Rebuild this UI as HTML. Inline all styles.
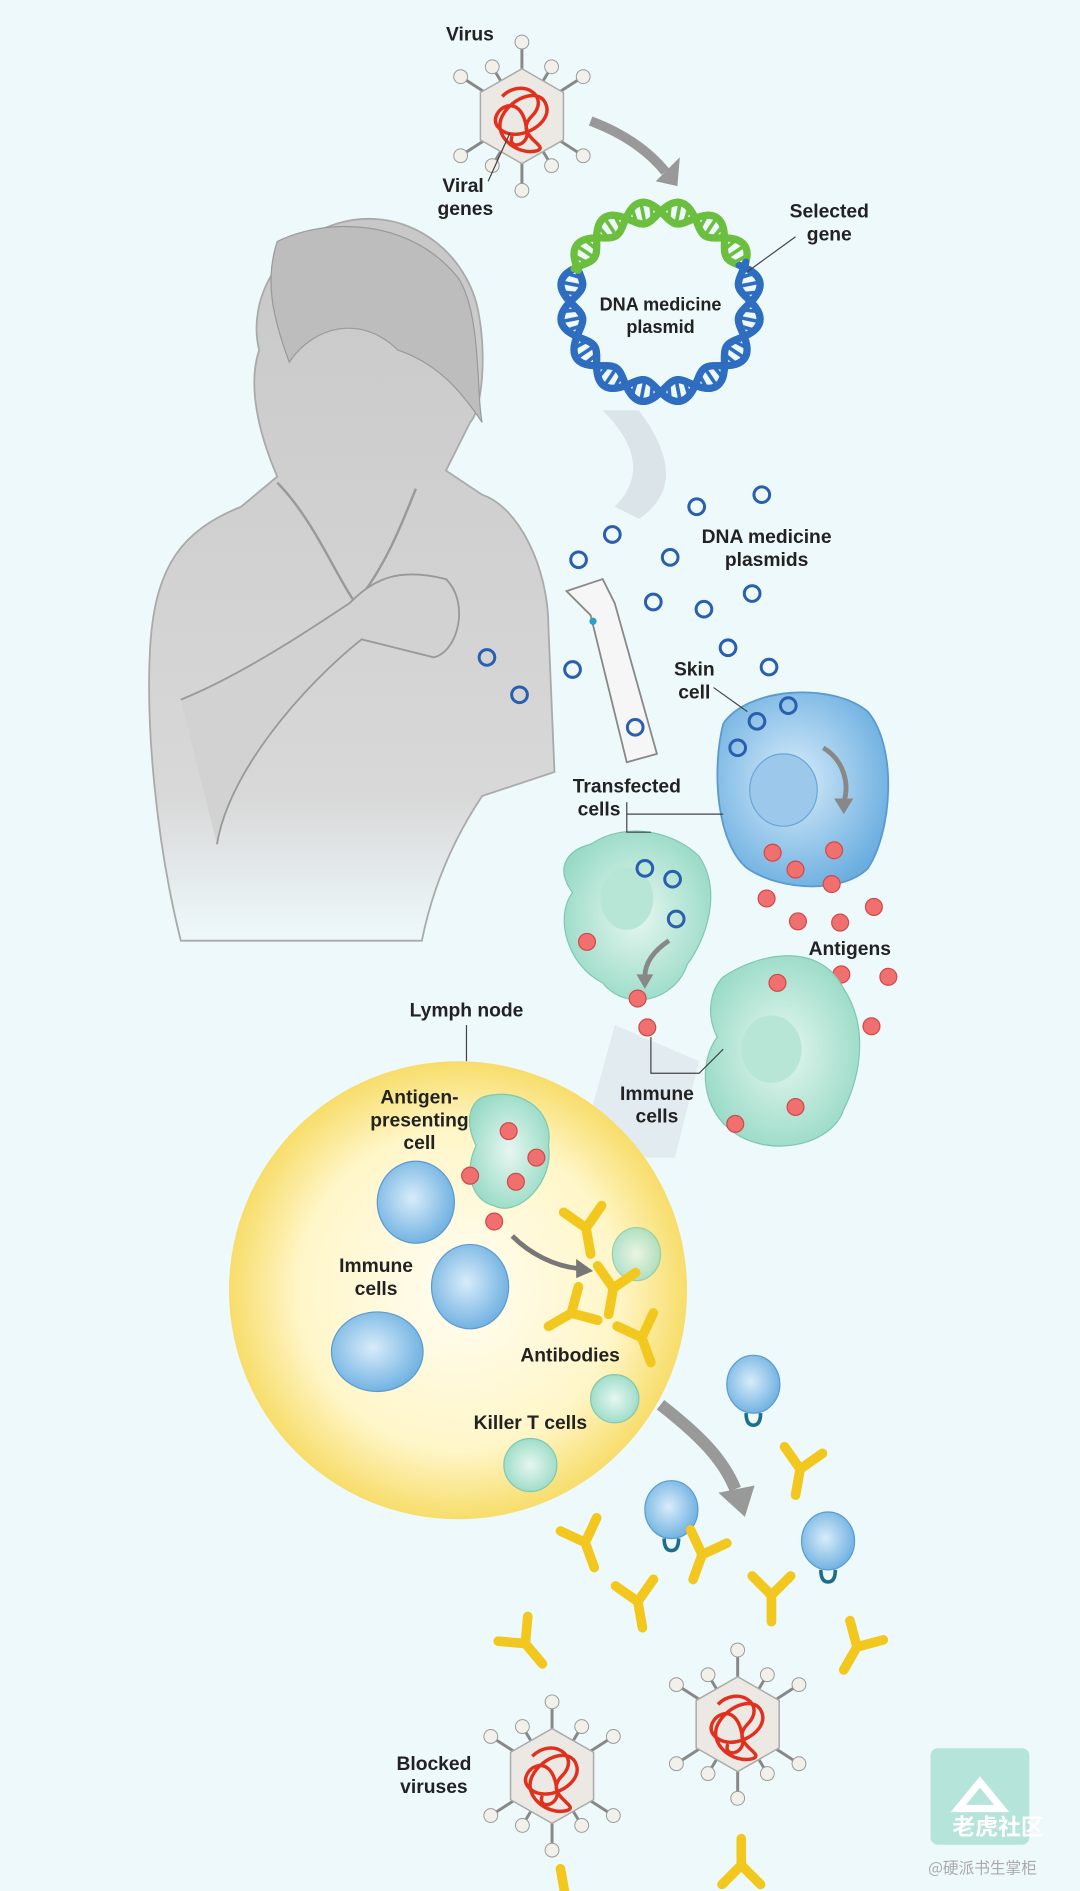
<!DOCTYPE html>
<html><head><meta charset="utf-8"><style>
html,body{margin:0;padding:0;background:#eef9fc;}
svg{display:block}
text{font-family:"Liberation Sans Narrow","Liberation Sans",Arial,sans-serif;font-weight:bold;fill:#222;}
</style></head><body>
<svg width="1080" height="1891" viewBox="0 0 896 1568" xmlns="http://www.w3.org/2000/svg">
<defs>
<radialGradient id="lymph" cx="0.5" cy="0.5" r="0.5">
<stop offset="0" stop-color="#fffdf2"/><stop offset="0.7" stop-color="#fff6c8"/><stop offset="1" stop-color="#f7dd6a"/></radialGradient>
<radialGradient id="blue" cx="0.45" cy="0.45" r="0.6">
<stop offset="0" stop-color="#d8ecfa"/><stop offset="1" stop-color="#6aaee0"/></radialGradient>
<radialGradient id="green" cx="0.5" cy="0.5" r="0.6">
<stop offset="0" stop-color="#e6f7f1"/><stop offset="1" stop-color="#92d8c2"/></radialGradient>
<linearGradient id="skin" x1="0" y1="0" x2="0" y2="1">
<stop offset="0" stop-color="#c8c8c8"/><stop offset="0.8" stop-color="#d8d8d8"/><stop offset="1" stop-color="#eef9fc"/></linearGradient>
<g id="ab"><path d="M0 0 L0 -22 M0 -22 L-16 -38 M0 -22 L16 -38" stroke="#f2c81e" stroke-width="8" stroke-linecap="round" fill="none"/></g>
<g id="plas"><circle r="6.5" fill="none" stroke="#2a5fb0" stroke-width="2.5"/></g>
<g id="ag"><circle r="7" fill="#f07070" stroke="#d04848" stroke-width="1"/></g>
<g id="virus">
<g stroke="#888" stroke-width="3"><line x1="0" y1="-75" x2="0" y2="75"/><line x1="-62" y1="-40" x2="62" y2="40"/><line x1="62" y1="-40" x2="-62" y2="40"/><line x1="-30" y1="-50" x2="30" y2="50"/><line x1="30" y1="-50" x2="-30" y2="50"/></g>
<polygon points="0,-48 42,-24 42,24 0,48 -42,24 -42,-24" fill="#ece8e4" stroke="#aaa" stroke-width="1.5"/>
<path d="M-20 -20 C0 -40 30 -20 10 0 C-10 20 30 30 15 35 C-5 40 -30 20 -20 0 C-10 -20 20 -30 25 -10 C30 10 -10 30 -25 10 C-35 -5 0 -30 5 15 C8 30 -15 35 -10 20" fill="none" stroke="#e0301e" stroke-width="3.5"/>
<g fill="#f2f0ea" stroke="#999"><circle cx="0" cy="-75" r="7"/><circle cx="0" cy="75" r="7"/><circle cx="-62" cy="-40" r="7"/><circle cx="62" cy="-40" r="7"/><circle cx="-62" cy="40" r="7"/><circle cx="62" cy="40" r="7"/><circle cx="-30" cy="-50" r="7"/><circle cx="30" cy="-50" r="7"/><circle cx="-30" cy="50" r="7"/><circle cx="30" cy="50" r="7"/></g>
</g>
<g id="bcell"><ellipse rx="22" ry="24" fill="url(#blue)" stroke="#5a9ad0"/><path d="M-6 24 q0 10 6 10 q6 0 6 -10" stroke="#1b6f8a" stroke-width="3" fill="none"/></g>
</defs>
<rect width="896" height="1568" fill="#eef9fc"/>

<!-- person -->
<path d="M150 780 C130 700 120 600 125 530 C130 470 150 440 200 420 L230 395 C215 360 205 320 215 290 C205 250 230 200 280 185 C330 170 380 200 395 250 C405 290 400 340 390 350 L370 390 L400 410 C430 420 455 470 455 520 L460 640 L400 660 C380 690 360 730 350 780 Z" fill="url(#skin)" stroke="#aaa" stroke-width="1.5"/>
<path d="M230 400 C260 430 280 480 295 500 C320 470 335 430 345 405" fill="none" stroke="#999" stroke-width="2"/>
<path d="M150 580 C200 560 260 520 290 500 C310 480 330 470 370 480 C390 500 380 540 360 545 L300 530 C250 570 190 640 180 700" fill="#d2d2d2" stroke="#999" stroke-width="1.5"/>
<path d="M230 200 C270 180 340 180 380 230 C400 260 395 330 400 350 C380 320 360 300 330 290 C300 260 260 270 240 300 C225 260 220 230 230 200Z" fill="#bdbdbd" stroke="#999"/>
<use href="#plas" x="404" y="545"/><use href="#plas" x="431" y="576"/>

<!-- virus top -->
<use href="#virus" transform="translate(433,96) scale(0.82)"/>
<text x="370" y="33" font-size="16">Virus</text>
<text x="367" y="159" font-size="16">Viral</text><text x="363" y="178" font-size="16">genes</text>
<line x1="405" y1="150" x2="423" y2="110" stroke="#444"/>
<path d="M490 100 Q530 115 552 142" stroke="#999" stroke-width="8" fill="none"/>
<polygon points="544,150 564,130 562,154" fill="#999"/>

<!-- plasmid -->
<g id="helix" fill="none"></g>
<text x="548" y="257" font-size="15" text-anchor="middle">DNA medicine</text>
<text x="548" y="276" font-size="15" text-anchor="middle">plasmid</text>
<text x="688" y="180" font-size="16" text-anchor="middle">Selected</text><text x="688" y="199" font-size="16" text-anchor="middle">gene</text>
<line x1="660" y1="196" x2="620" y2="225" stroke="#444"/>
<path d="M530 340 C560 380 560 410 530 430 L510 420 C540 390 520 360 500 340Z" fill="#d6dfe3" opacity="0.8"/>

<!-- plasmids scattered -->
<g>
<use href="#plas" x="578" y="420"/><use href="#plas" x="632" y="410"/><use href="#plas" x="508" y="443"/><use href="#plas" x="556" y="462"/><use href="#plas" x="480" y="464"/><use href="#plas" x="542" y="499"/><use href="#plas" x="584" y="505"/><use href="#plas" x="624" y="492"/><use href="#plas" x="604" y="537"/><use href="#plas" x="638" y="553"/><use href="#plas" x="475" y="555"/>
</g>
<text x="636" y="450" font-size="16" text-anchor="middle">DNA medicine</text>
<text x="636" y="469" font-size="16" text-anchor="middle">plasmids</text>

<!-- injector -->
<path d="M470 490 L500 480 L510 500 L545 625 L520 632 L490 510 Z" fill="#f6f6f6" stroke="#888" stroke-width="1.5"/>
<circle cx="492" cy="515" r="3" fill="#2aa0d0"/>
<use href="#plas" x="527" y="603"/>

<!-- shadow arrow -->
<path d="M510 850 L580 880 L560 960 L480 960 Z" fill="#d6dfe3" opacity="0.5"/>

<!-- skin cell -->
<path d="M600 600 C620 570 690 565 720 590 C745 620 740 690 720 720 C700 740 650 740 620 720 C595 700 590 640 600 600Z" fill="url(#blue)" stroke="#5a9ad0" stroke-width="1.5"/>
<ellipse cx="650" cy="655" rx="28" ry="30" fill="#9cc8ec" stroke="#6aa6d6"/>
<path d="M683 620 C700 630 705 650 700 665" stroke="#888" stroke-width="4" fill="none"/>
<polygon points="692,662 708,662 700,675" fill="#888"/>
<use href="#plas" x="628" y="598"/><use href="#plas" x="654" y="585"/><use href="#plas" x="612" y="620"/>
<text x="576" y="560" font-size="16" text-anchor="middle">Skin</text><text x="576" y="579" font-size="16" text-anchor="middle">cell</text>
<line x1="592" y1="570" x2="620" y2="590" stroke="#444"/>
<g><use href="#ag" x="641" y="707"/><use href="#ag" x="660" y="721"/><use href="#ag" x="692" y="705"/><use href="#ag" x="690" y="733"/><use href="#ag" x="636" y="745"/><use href="#ag" x="662" y="764"/><use href="#ag" x="697" y="765"/><use href="#ag" x="725" y="752"/><use href="#ag" x="698" y="808"/><use href="#ag" x="737" y="810"/><use href="#ag" x="723" y="851"/><use href="#ag" x="685" y="876"/></g>
<text x="705" y="792" font-size="16" text-anchor="middle">Antigens</text>

<!-- transfected cells -->
<path d="M490 700 C520 680 560 690 580 710 C600 740 585 780 570 800 C560 830 520 840 500 815 C470 800 460 760 475 740 C460 720 470 705 490 700Z" fill="url(#green)" stroke="#7fc8b0"/>
<ellipse cx="520" cy="745" rx="22" ry="26" fill="#b8e6d6"/>
<use href="#plas" x="535" y="720"/><use href="#plas" x="558" y="729"/><use href="#plas" x="561" y="762"/>
<use href="#ag" x="487" y="781"/><use href="#ag" x="529" y="828"/><use href="#ag" x="537" y="852"/>
<path d="M555 780 C540 790 535 800 535 810" stroke="#888" stroke-width="4" fill="none"/>
<polygon points="528,808 542,808 535,820" fill="#888"/>
<path d="M600 810 C630 790 680 780 700 820 C720 850 715 890 700 920 C690 950 640 960 610 940 C580 920 580 880 595 860 C585 840 590 820 600 810Z" fill="url(#green)" stroke="#7fc8b0"/>
<ellipse cx="640" cy="870" rx="25" ry="28" fill="#b8e6d6"/>
<use href="#ag" x="645" y="815"/><use href="#ag" x="660" y="918"/><use href="#ag" x="610" y="932"/>
<text x="520" y="657" font-size="16" text-anchor="middle">Transfected</text><text x="497" y="676" font-size="16" text-anchor="middle">cells</text>
<path d="M520 665 L520 690 L540 690 M520 675 L600 675" stroke="#444" fill="none"/>
<text x="545" y="912" font-size="16" text-anchor="middle">Immune</text><text x="545" y="931" font-size="16" text-anchor="middle">cells</text>
<path d="M540 860 L540 890 L580 890 L600 870" stroke="#444" fill="none"/>

<!-- lymph node -->
<circle cx="380" cy="1070" r="190" fill="url(#lymph)"/>
<text x="387" y="843" font-size="16" text-anchor="middle">Lymph node</text>
<line x1="387" y1="850" x2="387" y2="880" stroke="#444"/>
<path d="M400 910 C430 900 460 920 455 950 C460 980 430 1010 410 1000 C390 995 385 970 395 950 C385 930 390 915 400 910Z" fill="url(#green)" stroke="#7fc8b0"/>
<use href="#ag" x="422" y="938"/><use href="#ag" x="445" y="960"/><use href="#ag" x="428" y="980"/><use href="#ag" x="390" y="975"/><use href="#ag" x="410" y="1013"/>
<text x="348" y="915" font-size="16" text-anchor="middle">Antigen-</text><text x="348" y="934" font-size="16" text-anchor="middle">presenting</text><text x="348" y="953" font-size="16" text-anchor="middle">cell</text>
<ellipse cx="345" cy="997" rx="32" ry="34" fill="url(#blue)" stroke="#5a9ad0"/>
<ellipse cx="390" cy="1067" rx="32" ry="35" fill="url(#blue)" stroke="#5a9ad0"/>
<ellipse cx="313" cy="1121" rx="38" ry="33" fill="url(#blue)" stroke="#5a9ad0"/>
<text x="312" y="1055" font-size="16" text-anchor="middle">Immune</text><text x="312" y="1074" font-size="16" text-anchor="middle">cells</text>
<path d="M425 1025 C440 1040 460 1050 480 1052" stroke="#777" stroke-width="4" fill="none"/>
<polygon points="478,1044 492,1054 478,1060" fill="#777"/>
<ellipse cx="528" cy="1040" rx="20" ry="22" fill="url(#green)" stroke="#7fc8b0" opacity="0.8"/>
<ellipse cx="510" cy="1160" rx="20" ry="20" fill="url(#green)" stroke="#7fc8b0"/>
<ellipse cx="440" cy="1215" rx="22" ry="22" fill="url(#green)" stroke="#7fc8b0"/>
<use href="#ab" transform="translate(490,1040) rotate(-10)"/>
<use href="#ab" transform="translate(455,1100) rotate(60)"/>
<use href="#ab" transform="translate(505,1090) rotate(10)"/>
<use href="#ab" transform="translate(540,1130) rotate(-20)"/>
<text x="473" y="1129" font-size="16" text-anchor="middle">Antibodies</text>
<text x="440" y="1185" font-size="16" text-anchor="middle">Killer T cells</text>

<!-- big arrow -->
<path d="M548 1165 C580 1190 600 1210 610 1235" stroke="#999" stroke-width="10" fill="none"/>
<polygon points="596,1238 626,1232 618,1258" fill="#999"/>
<use href="#bcell" x="625" y="1148"/><use href="#bcell" x="557" y="1252"/><use href="#bcell" x="687" y="1278"/>
<use href="#ab" transform="translate(660,1240) rotate(10)"/>
<use href="#ab" transform="translate(493,1300) rotate(-20)"/>
<use href="#ab" transform="translate(575,1310) rotate(20)"/>
<use href="#ab" transform="translate(533,1350) rotate(-10)"/>
<use href="#ab" transform="translate(640,1345) rotate(0)"/>
<use href="#ab" transform="translate(700,1385) rotate(30)"/>
<use href="#ab" transform="translate(450,1380) rotate(-40)"/>
<use href="#ab" transform="translate(465,1550) rotate(170)"/>
<use href="#ab" transform="translate(615,1525) rotate(180)"/>

<use href="#virus" transform="translate(458,1473) scale(0.82)"/>
<use href="#virus" transform="translate(612,1430) scale(0.82)"/>
<text x="360" y="1468" font-size="16" text-anchor="middle">Blocked</text><text x="360" y="1487" font-size="16" text-anchor="middle">viruses</text>

<!-- watermark -->
<rect x="772" y="1450" width="82" height="80" rx="6" fill="#8fd6c4" opacity="0.6"/>
<polygon points="795,1500 813,1478 831,1500" fill="none" stroke="#fff" stroke-width="6"/>
<text x="790" y="1522" font-size="19" style="fill:#fff;font-family:'Noto Sans CJK SC',sans-serif">老虎社区</text>
<text x="770" y="1554" font-size="13" style="fill:#aaa;font-weight:normal;font-family:'Noto Sans CJK SC',sans-serif">@硬派书生掌柜</text>
</svg>
<script>
(function(){
var g=document.getElementById('helix'),ns='http://www.w3.org/2000/svg';
var cx=548,cy=250,R=75,A=9,N=8,html='';
function pt(t,ph){var r=R+A*Math.sin(N*t+ph);return [cx+r*Math.cos(t),cy+r*Math.sin(t)];}
function isGreen(t){var d=((t*180/Math.PI)+360)%360;return d>200&&d<335;}
for(var s=0;s<2;s++){
 var ph=s*Math.PI;var steps=360;
 for(var i=0;i<steps;i++){
  var t1=i/steps*2*Math.PI,t2=(i+1)/steps*2*Math.PI;
  var a=pt(t1,ph),b=pt(t2,ph);
  html+='<line x1="'+a[0]+'" y1="'+a[1]+'" x2="'+b[0]+'" y2="'+b[1]+'" stroke="'+(isGreen(t1)?'#6cbf3e':'#2e6dbf')+'" stroke-width="6" stroke-linecap="round"/>';
 }
}
for(var i=0;i<64;i++){
 var t=i/64*2*Math.PI;var a=pt(t,0),b=pt(t,Math.PI);
 html+='<line x1="'+a[0]+'" y1="'+a[1]+'" x2="'+b[0]+'" y2="'+b[1]+'" stroke="'+(isGreen(t)?'#6cbf3e':'#2e6dbf')+'" stroke-width="3"/>';
}
g.innerHTML=html;
})();
</script>
</body></html>
